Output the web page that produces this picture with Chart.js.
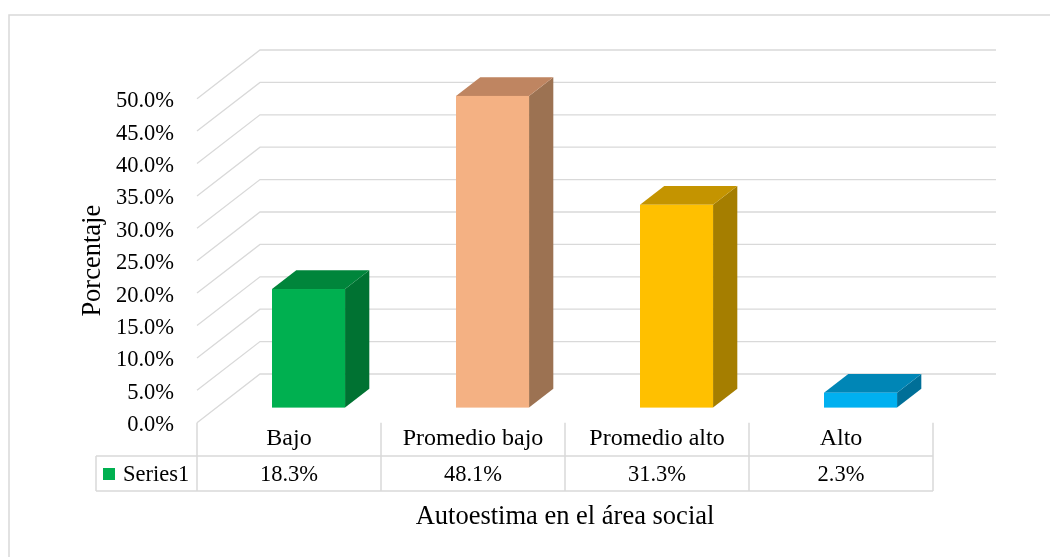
<!DOCTYPE html>
<html lang="es">
<head>
    <meta charset="UTF-8">
    <title>Autoestima en el área social</title>
    <script src="https://cdn.jsdelivr.net/npm/chart.js@4"></script>
    <style>
        html, body { margin: 0; padding: 0; background: #ffffff; }
        #wrap { width: 1050px; height: 557px; position: relative; }
    </style>
</head>
<body>
    <div id="wrap"><canvas id="chart" width="1050" height="557"></canvas></div>

    <script>
        // Datos del gráfico
        const categories = ['Bajo', 'Promedio bajo', 'Promedio alto', 'Alto'];
        const seriesName = 'Series1';
        const values = [18.3, 48.1, 31.3, 2.3];
        const yTicks = [0, 5, 10, 15, 20, 25, 30, 35, 40, 45, 50];

        // Colores de las caras (frente, tapa, lateral)
        const frontColors = ['#00b050', '#f4b183', '#ffc000', '#00b0f0'];
        const topColors = ['#00853b', '#bf8561', '#c49400', '#0086b6'];
        const sideColors = ['#007232', '#9c7252', '#a57e00', '#006f98'];

        const serif = '"Liberation Serif", "Times New Roman", serif';
        const gridColor = '#d9d9d9';

        // profundidad de la pared (perspectiva oblicua)
        const wallDX = 63, wallDY = -48.7;
        const barFront = 0.31, barDepth = 0.385;

        const tableTop = 422.7, rowMid = 456, tableBottom = 491, legendLeft = 96;

        const chart3d = {
            id: 'chart3d',
            beforeDraw(chart) {
                const ctx = chart.ctx;
                ctx.save();
                ctx.strokeStyle = gridColor;
                ctx.lineWidth = 1.5;
                ctx.beginPath();
                ctx.moveTo(9, 560);
                ctx.lineTo(9, 15);
                ctx.lineTo(1055, 15);
                ctx.stroke();
                ctx.restore();
            },
            beforeDatasetsDraw(chart) {
                const ctx = chart.ctx;
                const area = chart.chartArea;
                const y = chart.scales.y;
                ctx.save();
                // rejilla: pared izquierda y pared del fondo
                ctx.strokeStyle = gridColor;
                ctx.lineWidth = 1.3;
                yTicks.forEach(t => {
                    const py = y.getPixelForValue(t);
                    ctx.beginPath();
                    ctx.moveTo(area.left, py);
                    ctx.lineTo(area.left + wallDX, py + wallDY);
                    ctx.lineTo(area.right + wallDX, py + wallDY);
                    ctx.stroke();
                });

                // barras 3D a partir de los elementos de Chart.js
                const meta = chart.getDatasetMeta(0);
                const fx = wallDX * barFront, fy = wallDY * barFront;
                const dx = wallDX * barDepth, dy = wallDY * barDepth;
                meta.data.forEach((el, i) => {
                    const p = el.getProps(['x', 'y', 'base', 'width'], true);
                    const x0 = p.x - p.width / 2 + fx;
                    const x1 = p.x + p.width / 2 + fx;
                    const yt = p.y + fy;
                    const yb = p.base + fy;
                    // lateral
                    ctx.fillStyle = sideColors[i];
                    ctx.beginPath();
                    ctx.moveTo(x1, yb);
                    ctx.lineTo(x1, yt);
                    ctx.lineTo(x1 + dx, yt + dy);
                    ctx.lineTo(x1 + dx, yb + dy);
                    ctx.closePath();
                    ctx.fill();
                    // tapa
                    ctx.fillStyle = topColors[i];
                    ctx.beginPath();
                    ctx.moveTo(x0, yt);
                    ctx.lineTo(x0 + dx, yt + dy);
                    ctx.lineTo(x1 + dx, yt + dy);
                    ctx.lineTo(x1, yt);
                    ctx.closePath();
                    ctx.fill();
                    // frente
                    ctx.fillStyle = frontColors[i];
                    ctx.fillRect(x0, yt, x1 - x0, yb - yt);
                });
                ctx.restore();
                return false;
            },
            afterDraw(chart) {
                const ctx = chart.ctx;
                const area = chart.chartArea;
                const x = chart.scales.x;
                const colW = (area.right - area.left) / categories.length;
                ctx.save();
                ctx.strokeStyle = gridColor;
                ctx.lineWidth = 1.5;
                ctx.beginPath();
                for (let i = 0; i <= categories.length; i++) {
                    const px = area.left + i * colW;
                    ctx.moveTo(px, tableTop);
                    ctx.lineTo(px, tableBottom);
                }
                ctx.moveTo(legendLeft, rowMid);
                ctx.lineTo(area.right, rowMid);
                ctx.moveTo(legendLeft, tableBottom);
                ctx.lineTo(area.right, tableBottom);
                ctx.moveTo(legendLeft, rowMid);
                ctx.lineTo(legendLeft, tableBottom);
                ctx.stroke();

                // fila de valores
                ctx.fillStyle = '#000000';
                ctx.font = '22.5px ' + serif;
                ctx.textBaseline = 'middle';
                ctx.textAlign = 'center';
                values.forEach((v, i) => {
                    ctx.fillText(v.toFixed(1) + '%', x.getPixelForValue(i), 475);
                });

                // clave de leyenda
                ctx.fillStyle = frontColors[0];
                ctx.fillRect(103, 468, 12, 12);
                ctx.fillStyle = '#000000';
                ctx.textAlign = 'left';
                ctx.fillText(seriesName, 123, 475);
                ctx.restore();
            }
        };

        const ctx = document.getElementById('chart').getContext('2d');
        const myChart = new Chart(ctx, {
            type: 'bar',
            data: {
                labels: categories,
                datasets: [{
                    label: seriesName,
                    data: values,
                    backgroundColor: frontColors,
                    categoryPercentage: 1,
                    barPercentage: 0.397
                }]
            },
            plugins: [chart3d],
            options: {
                responsive: false,
                animation: false,
                layout: { padding: { top: 98.7, right: 117, left: 0, bottom: 0 } },
                plugins: {
                    legend: { display: false },
                    tooltip: { enabled: false }
                },
                scales: {
                    y: {
                        min: 0,
                        max: 50,
                        afterFit(scale) { scale.width = 197; },
                        afterBuildTicks(scale) { scale.ticks = yTicks.map(v => ({ value: v })); },
                        grid: { display: false, drawTicks: false },
                        border: { display: false },
                        ticks: {
                            padding: 23,
                            labelOffset: 2.5,
                            color: '#000000',
                            font: { family: serif, size: 22.5 },
                            callback: v => v.toFixed(1) + '%'
                        },
                        title: {
                            display: true,
                            text: 'Porcentaje',
                            color: '#000000',
                            font: { family: serif, size: 26.5 },
                            padding: { top: 77, bottom: 0 }
                        }
                    },
                    x: {
                        afterFit(scale) { scale.height = 557 - 422.7; },
                        grid: { display: false, drawTicks: false },
                        border: { display: false },
                        ticks: {
                            padding: 2,
                            color: '#000000',
                            maxRotation: 0,
                            font: { family: serif, size: 24 }
                        },
                        title: {
                            display: true,
                            text: 'Autoestima en el área social',
                            color: '#000000',
                            font: { family: serif, size: 26.5 },
                            padding: { top: 0, bottom: 24 }
                        }
                    }
                }
            }
        });
    </script>
</body>
</html>
